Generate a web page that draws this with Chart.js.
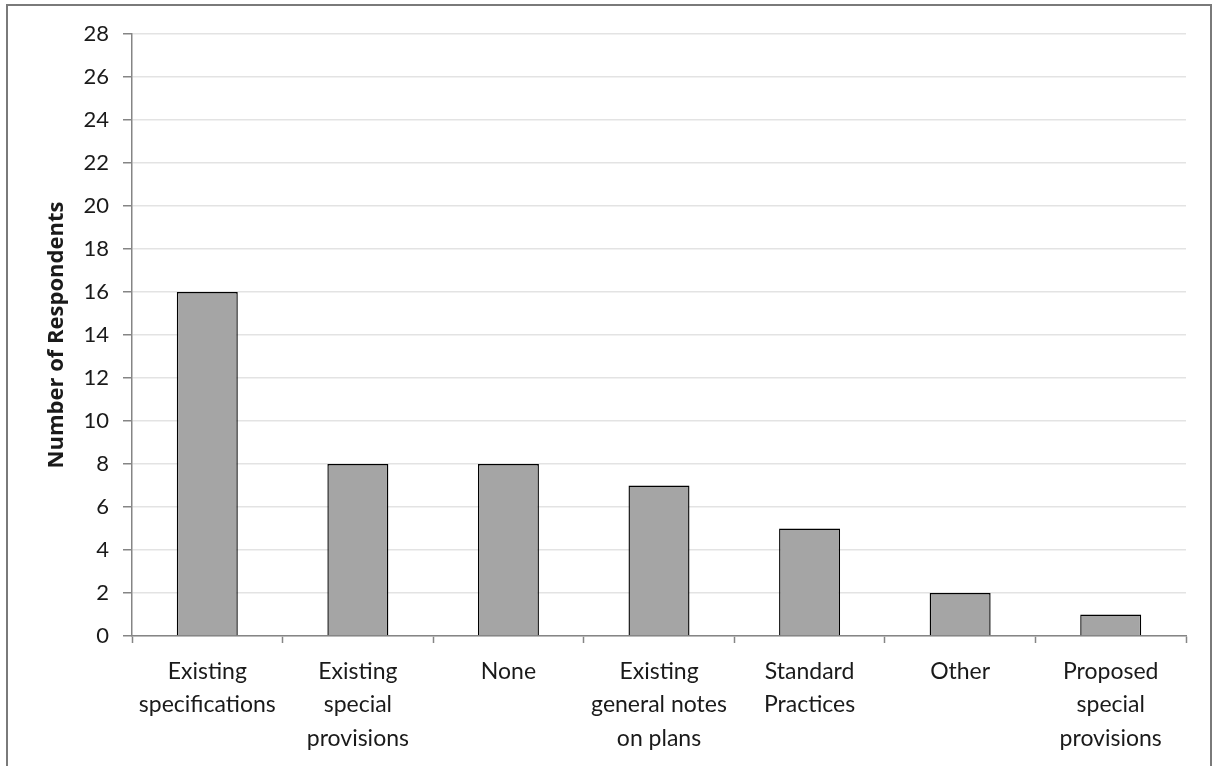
<!DOCTYPE html>
<html>
<head>
<meta charset="utf-8">
<script src="https://cdn.jsdelivr.net/npm/chart.js@4"></script>
<style>
  html, body { margin: 0; padding: 0; background: #fff; }
  #wrap { position: relative; width: 1216px; height: 766px; overflow: hidden; }
  #frame { position: absolute; left: 6px; top: 4px; width: 1206px; height: 800px;
           border: 2px solid #7a7a7a; box-sizing: border-box; pointer-events: none; }
  canvas { position: absolute; left: 0; top: 0; }
</style>
</head>
<body>
<div id="wrap">
  <canvas id="chart" width="1216" height="766"></canvas>
  <div id="frame"></div>
</div>
<script>
// Survey responses: where the requirements are documented
const categories = [
  ['Existing', 'specifications'],
  ['Existing', 'special', 'provisions'],
  ['None'],
  ['Existing', 'general notes', 'on plans'],
  ['Standard', 'Practices'],
  ['Other'],
  ['Proposed', 'special', 'provisions']
];
const respondents = [16, 8, 8, 7, 5, 2, 1];
const yTicks = [0, 2, 4, 6, 8, 10, 12, 14, 16, 18, 20, 22, 24, 26, 28];
const yTitle = 'Number of Respondents';

const FONT = 'Lato, "Liberation Sans", sans-serif';
const TITLE_FONT = '"Open Sans", "Noto Sans", sans-serif';
const TEXT = '#1a1a1a';
const AXIS = '#858585';
const GRID = '#e3e3e3';

new Chart(document.getElementById('chart'), {
  type: 'bar',
  data: {
    labels: categories,
    datasets: [{
      data: respondents,
      backgroundColor: '#a5a5a5',
      borderColor: '#000000',
      borderWidth: 1.4,
      barPercentage: 0.405,
      categoryPercentage: 1.0
    }]
  },
  options: {
    responsive: false,
    animation: false,
    devicePixelRatio: 1,
    layout: { padding: { top: 34, right: 30, bottom: 0, left: 0 } },
    plugins: { legend: { display: false }, tooltip: { enabled: false } },
    scales: {
      x: {
        offset: true,
        grid: {
          offset: true,
          drawOnChartArea: false,
          drawTicks: true,
          tickLength: 7,
          tickColor: AXIS,
          tickWidth: 1.5
        },
        border: { display: true, color: AXIS, width: 1.5 },
        ticks: {
          color: TEXT,
          font: { family: FONT, size: 23, lineHeight: 1.45 },
          padding: 12,
          maxRotation: 0,
          autoSkip: false
        },
        afterFit: (scale) => { scale.height = 130; }
      },
      y: {
        min: 0,
        max: 28,
        afterBuildTicks: (scale) => { scale.ticks = yTicks.map(v => ({ value: v })); },
        grid: {
          color: GRID,
          lineWidth: 1.5,
          drawTicks: true,
          tickLength: 9,
          tickColor: AXIS,
          tickWidth: 1.5
        },
        border: { display: true, color: AXIS, width: 1.5 },
        ticks: {
          color: TEXT,
          font: { family: FONT, size: 22 },
          padding: 14
        },
        title: {
          display: true,
          text: yTitle,
          color: TEXT,
          font: { family: TITLE_FONT, size: 22, weight: 'bold', lineHeight: 1.2 },
          padding: { top: 44, bottom: 0 }
        },
        afterFit: (scale) => { scale.width = 132; }
      }
    }
  }
});
</script>
</body>
</html>
